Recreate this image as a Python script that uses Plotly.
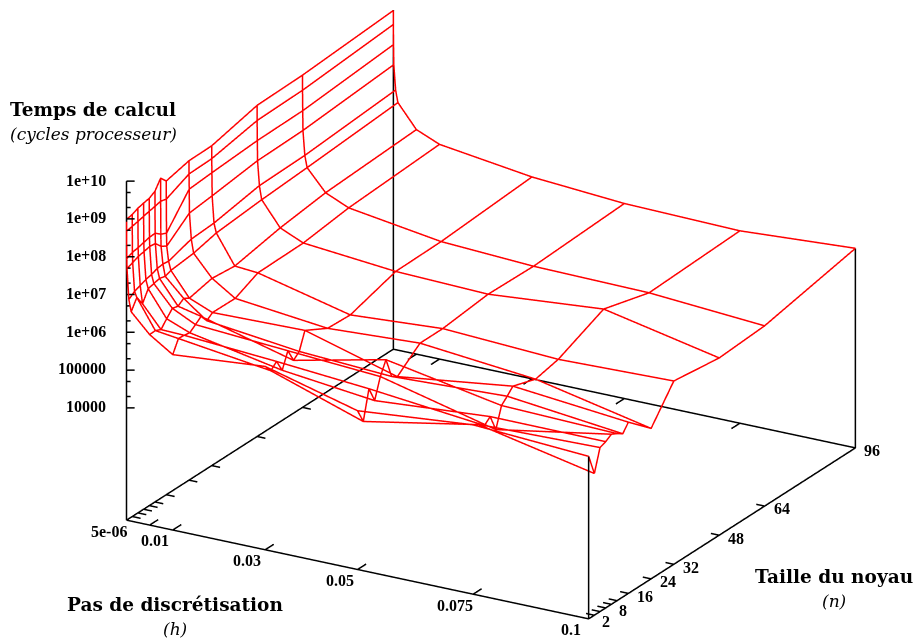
import math
import plotly.graph_objects as go

# Grid
h_values = [5e-6, 1e-5, 5e-5, 1e-4, 5e-4, 1e-3, 5e-3, 0.01, 0.03, 0.05, 0.075, 0.1]
n_values = [2, 4, 6, 8, 10, 12, 14, 16, 24, 32, 48, 64, 96]

# log10(cycles) for every kernel size, one list per step h
log_t_h_5em6 = [8.99, 9.02, 9.09, 9.13, 9.16, 9.25, 9.50, 9.33, 9.48, 9.49, 9.79, 9.82, 9.99]
log_t_h_1em5 = [8.67, 8.71, 8.74, 8.78, 8.82, 8.85, 8.89, 8.85, 9.13, 9.15, 9.39, 9.42, 9.62]
log_t_h_5em5 = [7.95, 8.02, 8.05, 8.09, 8.13, 8.14, 8.02, 7.95, 8.73, 8.78, 8.86, 8.88, 9.09]
log_t_h_1em4 = [7.69, 7.75, 7.82, 7.85, 7.89, 7.87, 7.70, 7.61, 8.10, 8.17, 8.33, 8.36, 8.56]
log_t_h_5em4 = [6.88, 7.00, 7.06, 7.12, 7.16, 7.22, 7.24, 7.22, 7.42, 7.46, 7.68, 7.71, 7.90]
log_t_h_1em3 = [6.57, 6.85, 6.59, 6.89, 6.93, 6.97, 6.93, 6.99, 7.06, 7.21, 7.32, 7.40, 7.58]
log_t_h_5em3 = [6.07, 6.08, 6.01, 6.20, 6.38, 6.34, 6.45, 6.36, 6.50, 6.44, 6.68, 6.84, 6.97]
log_t_h_1em2 = [5.67, 6.00, 5.99, 5.96, 6.08, 6.20, 5.99, 6.11, 6.10, 6.39, 6.41, 6.57, 6.71]
log_t_h_3em2 = [5.88, 5.67, 5.82, 5.49, 5.91, 5.56, 5.70, 6.16, 5.83, 5.80, 6.18, 6.20, 6.37]
log_t_h_5em2 = [5.23, 4.85, 5.62, 5.21, 5.75, 6.10, 5.56, 5.46, 5.96, 5.96, 6.10, 6.07, 6.19]
log_t_h_75em3 = [5.51, 5.42, 5.30, 5.44, 5.00, 5.54, 5.69, 5.86, 5.66, 5.80, 6.36, 6.02, 6.12]
log_t_h_1em1 = [5.33, 4.78, 5.37, 5.43, 5.53, 5.45, 5.35, 5.56, 5.01, 5.88, 5.72, 5.80, 6.31]
log_t = [log_t_h_5em6, log_t_h_1em5, log_t_h_5em5, log_t_h_1em4, log_t_h_5em4, log_t_h_1em3,
         log_t_h_5em3, log_t_h_1em2, log_t_h_3em2, log_t_h_5em2, log_t_h_75em3, log_t_h_1em1]

h_ticks = [5e-6, 0.005, 0.01, 0.03, 0.05, 0.075, 0.1]
h_labels = ["5e-06", "", "0.01", "0.03", "0.05", "0.075", "0.1"]
n_ticks = [2, 4, 6, 8, 10, 12, 16, 24, 32, 48, 64, 96]
n_labels = ["2", "", "", "8", "", "", "16", "24", "32", "48", "64", "96"]
z_ticks = [1e4, 1e5, 1e6, 1e7, 1e8, 1e9, 1e10]
z_labels = ["10000", "100000", "1e+06", "1e+07", "1e+08", "1e+09", "1e+10"]
z_minor_factors = [2, 5]
Z_MIN_LOG, Z_MAX_LOG = 1.03, 10.0
RED = "#ff0000"
TITLE_FONT = "DejaVu Serif"
TICK_FONT = "Liberation Serif"
PAD = 0.001

fig = go.Figure()
xs, ys, zs = [], [], []
for i, h in enumerate(h_values):
    for j, n in enumerate(n_values):
        xs.append(h); ys.append(n); zs.append(10 ** log_t[i][j])
    xs.append(None); ys.append(None); zs.append(None)
for j, n in enumerate(n_values):
    for i, h in enumerate(h_values):
        xs.append(h); ys.append(n); zs.append(10 ** log_t[i][j])
    xs.append(None); ys.append(None); zs.append(None)
fig.add_trace(go.Scatter3d(x=xs, y=ys, z=zs, mode="lines", line=dict(color=RED, width=3),
                           hoverinfo="skip", showlegend=False))

h0, h1, n0, n1 = h_values[0], h_values[-1], n_values[0], n_values[-1]
zb = 10 ** Z_MIN_LOG
bx = [h0, h1, h1, h0, h0, None, h0, h0, None, h1, h1, None, h1, h1, None, h0, h0]
by = [n0, n0, n1, n1, n0, None, n0, n0, None, n0, n0, None, n1, n1, None, n1, n1]
bz = [zb, zb, zb, zb, zb, None, zb, 1e10, None, zb, 10 ** log_t[-1][0], None, zb, 10 ** log_t[-1][-1],
      None, zb, 1e10]
# tick marks, drawn from the tick lists
H_TICK = 3.0      # length of an h tick, in n units
N_TICK = 0.0018   # length of an n tick, in h units
for h in h_ticks:
    bx += [None, h, h, None, h, h]
    by += [None, n0, n0 + H_TICK, None, n1, n1 - H_TICK]
    bz += [None, zb, zb, None, zb, zb]
for n in n_ticks:
    bx += [None, h0, h0 + N_TICK, None, h1, h1 - N_TICK]
    by += [None, n, n, None, n, n]
    bz += [None, zb, zb, None, zb, zb]
for z in z_ticks:
    bx += [None, h0, h0 + 0.0013]
    by += [None, n0, n0 + 0.71]
    bz += [None, z, z]
for z in z_ticks[:-1]:
    for f in z_minor_factors:
        bx += [None, h0, h0 + 0.00065]
        by += [None, n0, n0 + 0.36]
        bz += [None, z * f, z * f]
fig.add_trace(go.Scatter3d(x=bx, y=by, z=bz, mode="lines", line=dict(color="black", width=3),
                           hoverinfo="skip", showlegend=False))

tick_font = dict(family=TICK_FONT, size=16, color="black", weight="bold")
scene_annotations = []
for h, label in zip(h_ticks, h_labels):
    if label:
        scene_annotations.append(dict(x=h, y=n0, z=Z_MIN_LOG, text=label, showarrow=False, font=tick_font,
                                      xshift=-18, yshift=-11))
for n, label in zip(n_ticks, n_labels):
    if label:
        scene_annotations.append(dict(x=h1, y=n, z=Z_MIN_LOG, text=label, showarrow=False, font=tick_font,
                                      xshift=17, yshift=-3))
for z, label in zip(z_ticks, z_labels):
    scene_annotations.append(dict(x=h0, y=n0, z=math.log10(z), text=label, showarrow=False, font=tick_font,
                                  xanchor="right", xshift=-19, yshift=1))

axis_common = dict(showgrid=False, zeroline=False, showbackground=False, showspikes=False,
                   showline=False, ticks="", showticklabels=False, title=dict(text=""))
fig.update_layout(
    width=918, height=641, margin=dict(l=0, r=0, t=0, b=0), showlegend=False,
    paper_bgcolor="white",
    scene=dict(
        domain=dict(x=[0.07, 1], y=[0.019, 1]),
        aspectmode="manual", aspectratio=dict(x=1.70, y=1.70, z=1.163),
        camera=dict(projection=dict(type="orthographic"),
                    up=dict(x=0, y=0, z=1), center=dict(x=0, y=0, z=0),
                    eye=dict(x=0.4645 * 3, y=-0.8046 * 3, z=0.37 * 3)),
        xaxis=dict(axis_common, range=[h0 - PAD * h1, h1 * (1 + PAD)], tickmode="array", tickvals=h_ticks),
        yaxis=dict(axis_common, range=[n0 - PAD * n1, n1 * (1 + PAD)], tickmode="array", tickvals=n_ticks),
        zaxis=dict(axis_common, type="log", range=[Z_MIN_LOG - 0.01, Z_MAX_LOG + 0.01], tickmode="array", tickvals=z_ticks),
        annotations=scene_annotations,
    ),
)
titles = [
    ("<b>Temps de calcul</b>", 8, 109, "left", 18.5),
    ("<i>(cycles processeur)</i>", 8, 134, "left", 17),
    ("<b>Pas de discrétisation</b>", 175, 604, "center", 18.5),
    ("<i>(h)</i>", 175, 629, "center", 17),
    ("<b>Taille du noyau</b>", 834, 576, "center", 18.5),
    ("<i>(n)</i>", 834, 601, "center", 17),
]
for text, px, py, anchor, size in titles:
    fig.add_annotation(text=text, x=px / 918, y=1 - py / 641, xref="paper", yref="paper",
                       xanchor=anchor, yanchor="middle", showarrow=False,
                       font=dict(family=TITLE_FONT, size=size, color="black"))
fig.write_html("out.html", post_script="document.body.style.margin='0';",
               config=dict(displayModeBar=False))
